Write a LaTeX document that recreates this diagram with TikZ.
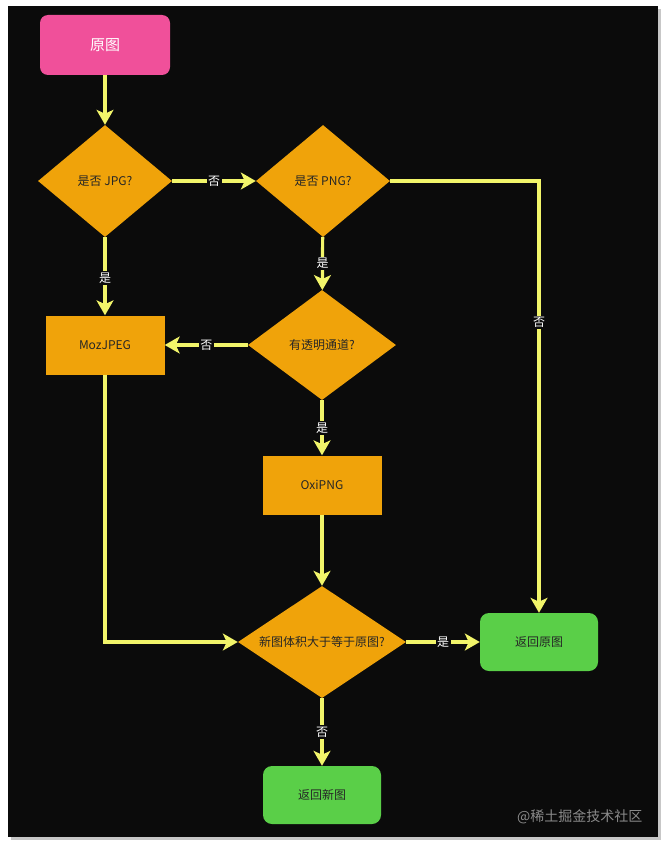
\documentclass[tikz,border=0pt]{standalone}
\usepackage{fontspec}
\setmainfont{Liberation Sans}
\newfontfamily\cjk{Noto Sans CJK SC}
\usetikzlibrary{shapes.geometric,arrows.meta}
\definecolor{bgblack}{HTML}{0B0B0B}
\definecolor{flowyellow}{HTML}{F2F56A}
\definecolor{dorange}{HTML}{F0A30A}
\definecolor{dgreen}{HTML}{5ACF48}
\definecolor{dpink}{HTML}{F0509A}
\definecolor{wmgray}{HTML}{8A8A8A}
\newcommand{\zw}[1]{\makebox[0pt]{#1}}
\tikzset{
  proc/.style={rectangle, fill=dorange, minimum width=119pt, minimum height=59pt, inner sep=0pt, font=\cjk\fontsize{12}{14}\selectfont, text=black!85},
  term/.style={rectangle, rounded corners=9pt, fill=dgreen, minimum width=118pt, minimum height=58pt, inner sep=0pt, font=\cjk\fontsize{12}{14}\selectfont, text=black!85},
  decide/.style={diamond, fill=dorange, aspect=1.2, inner sep=0pt, font=\cjk\fontsize{12}{14}\selectfont, text=black!85},
  flow/.style={draw=flowyellow, line width=3.2pt, -{Stealth[length=15pt,width=17pt,inset=4pt]}},
  lbl/.style={fill=bgblack, text=white, inner sep=1.5pt, font=\cjk\fontsize{12}{13}\selectfont},
}
\begin{document}
\begin{tikzpicture}[x=1pt,y=-1pt]
\useasboundingbox (0,0) rectangle (668,848);
\fill[white] (0,0) rectangle (668,848);
\fill[black!22] (11,9) rectangle (661,840);
\fill[bgblack] (8,6) rectangle (658,837);
% nodes
\node[rectangle, rounded corners=8pt, fill=dpink, minimum width=130pt, minimum height=60pt, text=white, font=\cjk\fontsize{15}{17}\selectfont] (start) at (105,45) {原图};
\node[decide, minimum width=134pt, minimum height=112pt] (jpg) at (105,181) {\zw{是否 JPG?}};
\node[decide, minimum width=134pt, minimum height=112pt] (png) at (323,181) {\zw{是否 PNG?}};
\node[proc] (moz) at (105,345) {MozJPEG};
\node[decide, minimum width=148pt, minimum height=110pt] (alpha) at (322,345) {\zw{有透明通道?}};
\node[proc] (oxi) at (322,485) {OxiPNG};
\node[decide, minimum width=168pt, minimum height=112pt] (size) at (322,642) {\zw{新图体积大于等于原图?}};
\node[term] (retorig) at (539,642) {返回原图};
\node[term] (retnew) at (322,795) {返回新图};
\node[anchor=east, text=wmgray, font=\cjk\fontsize{14}{16}\selectfont] (wm) at (646,817) {@稀土掘金技术社区};
% connectors
\draw[flow] (start) -- (jpg);
\draw[flow] (jpg) -- node[lbl]{否} (png);
\draw[flow] (jpg) -- node[lbl, pos=0.52]{是} (moz);
\draw[flow] (png) -- node[lbl]{是} (alpha);
\draw[flow] (png.east) -| node[lbl, pos=0.664]{否} (retorig.north);
\draw[flow] (alpha) -- node[lbl]{否} (moz);
\draw[flow] (alpha) -- node[lbl]{是} (oxi);
\draw[flow] (oxi) -- (size);
\draw[flow] (moz.south) |- (size.west);
\draw[flow] (size) -- node[lbl]{是} (retorig);
\draw[flow] (size) -- node[lbl]{否} (retnew);
\end{tikzpicture}
\end{document}
